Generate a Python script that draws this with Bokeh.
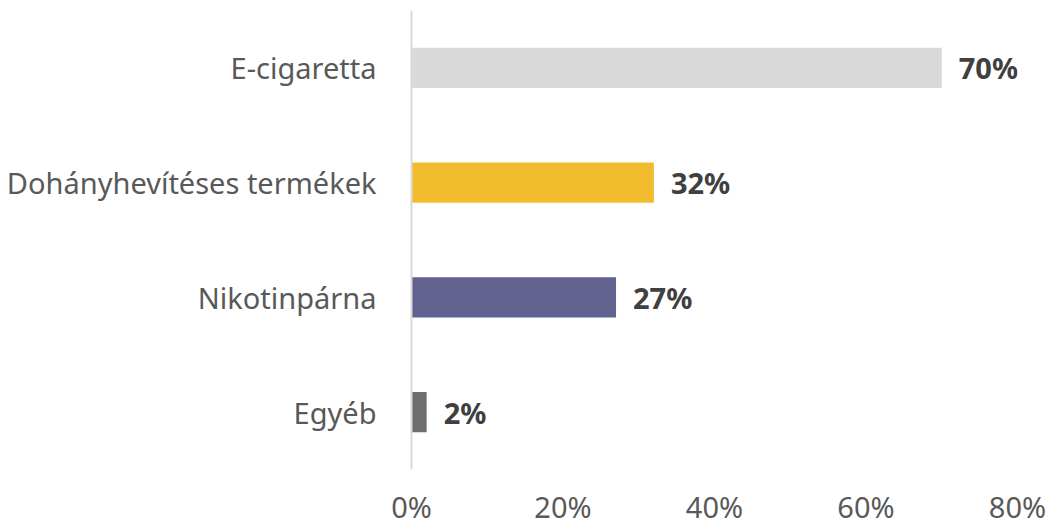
from bokeh.plotting import figure
from bokeh.models import ColumnDataSource, FactorRange, Range1d, FixedTicker, PrintfTickFormatter
from bokeh.core.properties import value
from bokeh.embed import file_html
from bokeh.resources import INLINE

categories = ["E-cigaretta", "Dohányhevítéses termékek", "Nikotinpárna", "Egyéb"]
values = [70, 32, 27, 2]
labels = ["70%", "32%", "27%", "2%"]
colors = ["#d9d9d9", "#f1bd2f", "#62628f", "#6e6e6e"]
x_ticks = [0, 20, 40, 60, 80]

src = ColumnDataSource(dict(cat=categories, val=values, lab=labels, col=colors))

p = figure(width=1051, height=528, output_backend="svg", toolbar_location=None,
           y_range=FactorRange(*reversed(categories), range_padding=0),
           x_range=Range1d(0, 80))
p.min_border_left = 411
p.min_border_right = 34
p.min_border_top = 10
p.min_border_bottom = 10
p.outline_line_color = None
p.background_fill_color = "white"
p.border_fill_color = "white"

p.hbar(y="cat", right="val", left=0, height=0.35, color="col", source=src, line_color=None)
p.text(x="val", y="cat", text="lab", source=src, x_offset=17,
       text_baseline="middle", text_align="left",
       text_font=value("Noto Sans"), text_font_style="bold",
       text_font_size="29px", text_color="#404040")

p.xgrid.grid_line_color = None
p.ygrid.grid_line_color = None

xa = p.xaxis[0]
xa.ticker = FixedTicker(ticks=x_ticks)
xa.formatter = PrintfTickFormatter(format="%d%%")
xa.axis_line_color = None
xa.major_tick_line_color = None
xa.minor_tick_line_color = None
xa.major_label_text_font = "Noto Sans"
xa.major_label_text_font_size = "29px"
xa.major_label_text_color = "#595959"
xa.major_label_standoff = 11

ya = p.yaxis[0]
ya.axis_line_color = "#d9d9d9"
ya.axis_line_width = 2
ya.major_tick_line_color = None
ya.minor_tick_line_color = None
ya.major_label_text_font = "Noto Sans"
ya.major_label_text_font_size = "29px"
ya.major_label_text_color = "#595959"
ya.major_label_standoff = 29

open("out.html", "w").write(file_html(p, INLINE))
